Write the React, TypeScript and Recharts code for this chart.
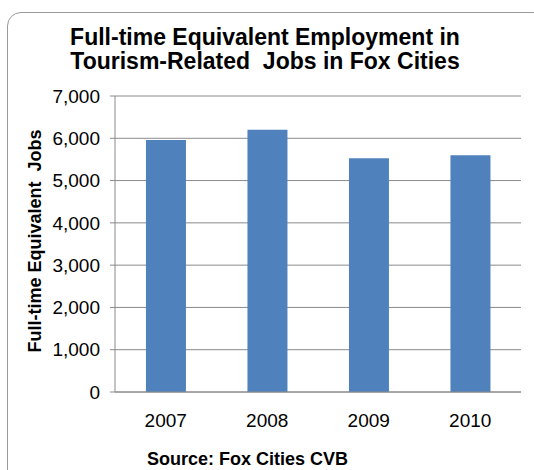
import React from "react";
import { BarChart, Bar, XAxis, YAxis, CartesianGrid } from "recharts";

const years = ["2007", "2008", "2009", "2010"];
const jobs = [5960, 6200, 5530, 5600];
const yTicks = [0, 1000, 2000, 3000, 4000, 5000, 6000, 7000];

const titleLines = ["Full-time Equivalent Employment in", "Tourism-Related  Jobs in Fox Cities"];
const yAxisTitle = "Full-time Equivalent  Jobs";
const sourceText = "Source: Fox Cities CVB";

const data = years.map((y, i) => ({ year: y, jobs: jobs[i] }));

const FONT = "'Liberation Sans', Arial, sans-serif";

export default function App() {
  return (
    <div
      style={{
        position: "absolute",
        left: 0,
        top: 0,
        width: 534,
        height: 470,
        overflow: "hidden",
        background: "#fff",
        fontFamily: FONT,
      }}
    >
      <div
        style={{
          position: "absolute",
          left: 7,
          top: 12,
          width: 540,
          height: 490,
          border: "1.5px solid #9a9a9a",
          borderRadius: 14,
          boxSizing: "border-box",
        }}
      />
      <div style={{ position: "absolute", left: 0, top: 0 }}>
        <BarChart
          width={534}
          height={470}
          data={data}
          margin={{ top: 96, right: 13, bottom: 38, left: 0 }}
          barCategoryGap="30.5%"
        >
          <CartesianGrid vertical={false} stroke="#8a8a8a" strokeWidth={1} />
          <XAxis
            dataKey="year"
            height={40}
            tickLine={false}
            tickSize={0}
            tickMargin={21.5}
            axisLine={{ stroke: "#8a8a8a" }}
            tick={{ fill: "#000", fontSize: 19, fontFamily: FONT }}
          />
          <YAxis
            width={115}
            domain={[0, 7000]}
            ticks={yTicks}
            interval={0}
            tickSize={5}
            tickMargin={10}
            tickLine={{ stroke: "#8a8a8a" }}
            axisLine={{ stroke: "#8a8a8a" }}
            tickFormatter={(v: number) => v.toLocaleString("en-US")}
            tick={{ fill: "#000", fontSize: 19, fontFamily: FONT }}
          />
          <Bar dataKey="jobs" fill="#4F81BD" isAnimationActive={false} />
        </BarChart>
      </div>
      <svg
        width={534}
        height={470}
        style={{ position: "absolute", left: 0, top: 0, pointerEvents: "none" }}
      >
        <g fontFamily={FONT} fontWeight="bold" fill="#000">
          <text x={265} y={45} fontSize={23} textAnchor="middle" style={{ whiteSpace: "pre" }}>
            {titleLines[0]}
          </text>
          <text x={265} y={69} fontSize={23} textAnchor="middle" style={{ whiteSpace: "pre" }}>
            {titleLines[1]}
          </text>
          <text
            x={0}
            y={0}
            fontSize={18}
            textAnchor="middle"
            dominantBaseline="central"
            transform="translate(35,241) rotate(-90)"
            style={{ whiteSpace: "pre" }}
          >
            {yAxisTitle}
          </text>
          <text x={247.5} y={465} fontSize={18} textAnchor="middle">
            {sourceText}
          </text>
        </g>
      </svg>
    </div>
  );
}
